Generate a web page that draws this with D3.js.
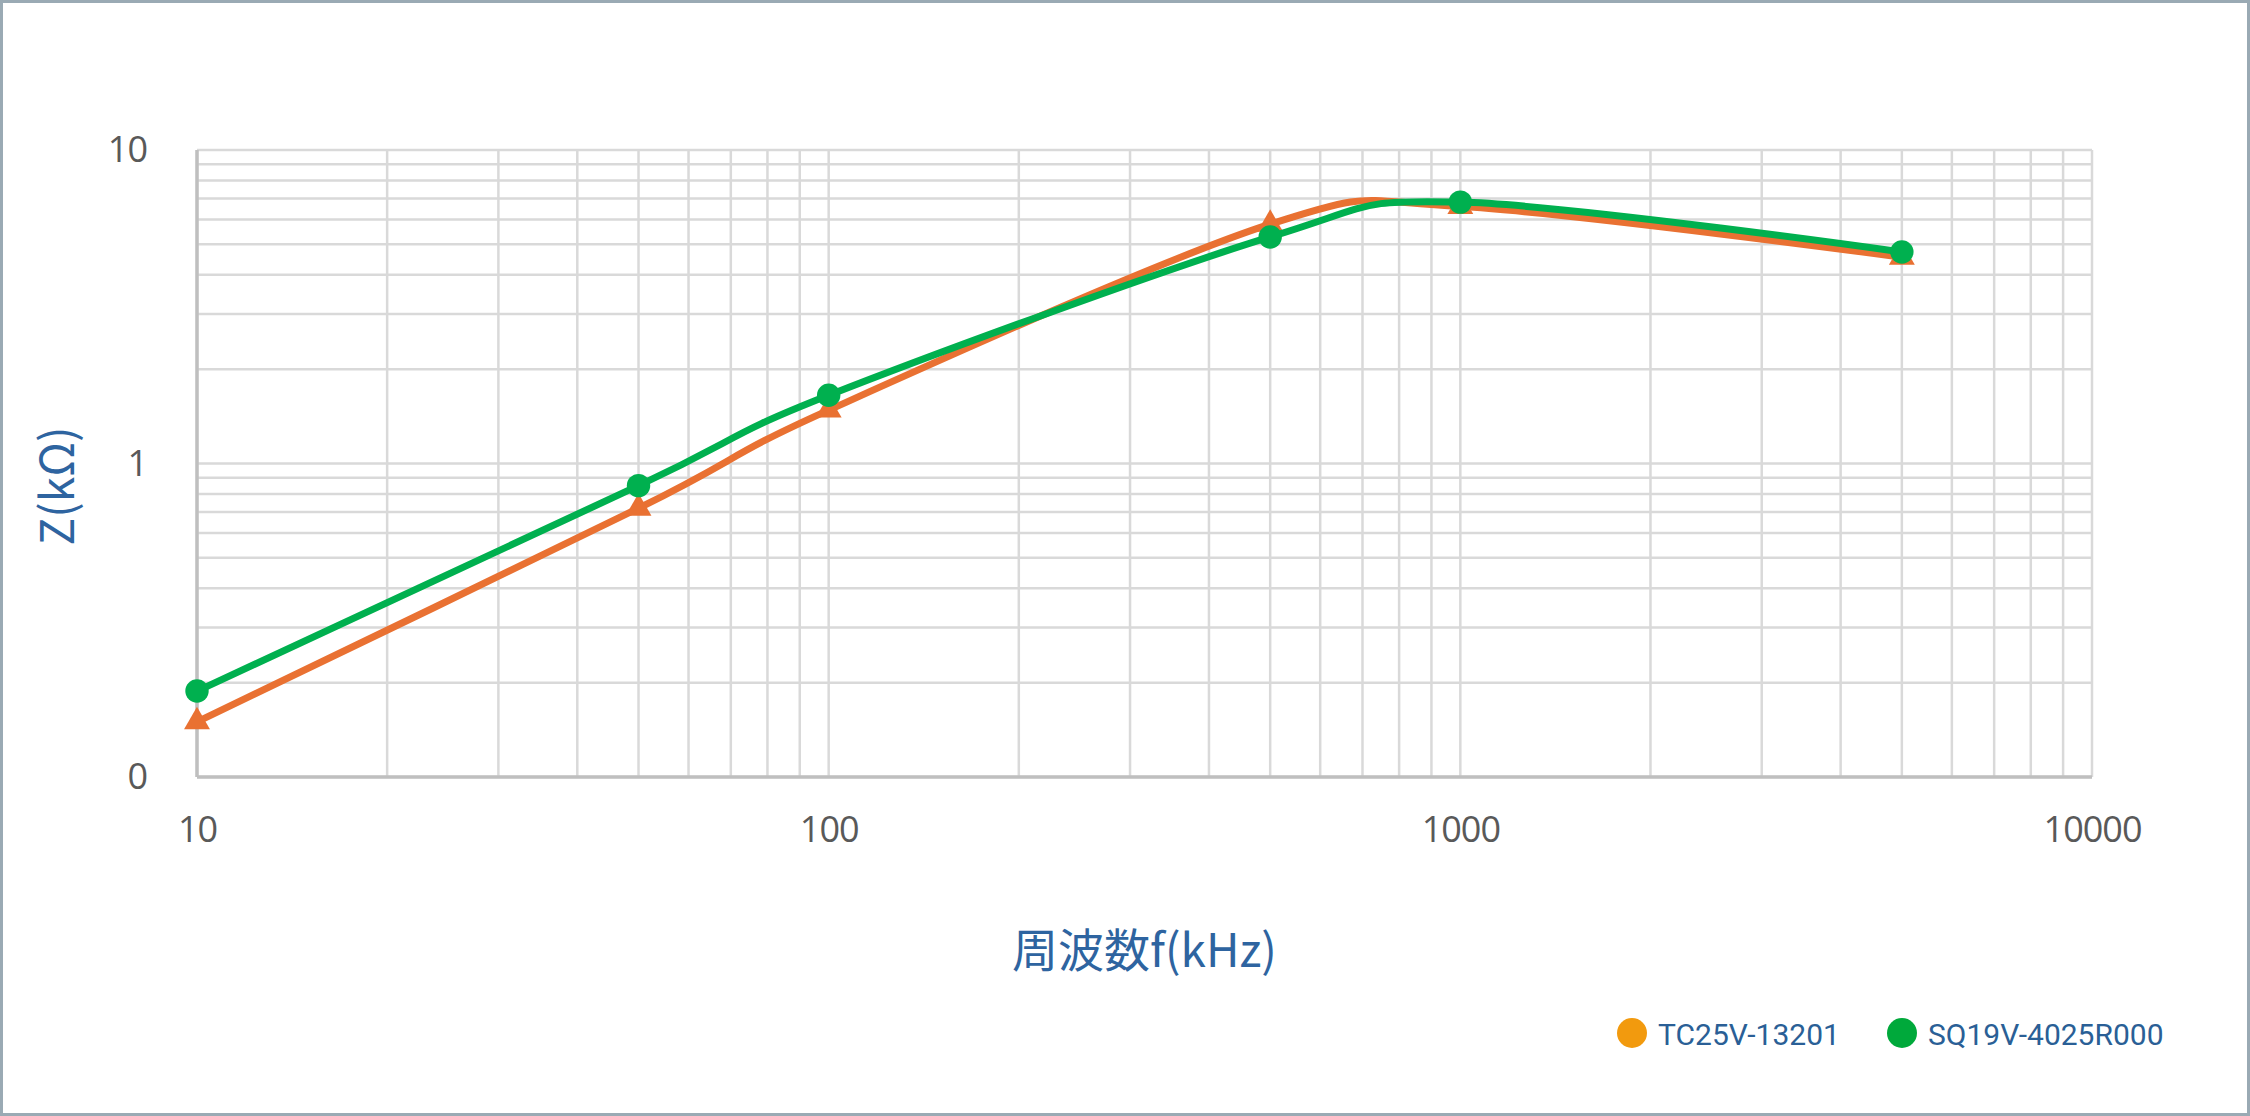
<!DOCTYPE html>
<html>
<head>
<meta charset="utf-8">
<script src="https://cdn.jsdelivr.net/npm/d3@7"></script>
<style>
  body { margin: 0; background: #fff; }
  svg { display: block; }
</style>
</head>
<body>
<div id="main"></div>
<script>
const cte = {
    w: 2250,
    h: 1116,
    duration: 0
};

// data
const frequencies = [10, 50, 100, 500, 1000, 5000];           // kHz
const seriesNames = ["TC25V-13201", "SQ19V-4025R000"];
const tcValues = [0.15, 0.72, 1.48, 5.8, 6.6, 4.55];           // kOhm
const sqValues = [0.188, 0.85, 1.65, 5.28, 6.82, 4.73];        // kOhm

const xTickValues = [10, 100, 1000, 10000];
const xTickLabels = ["10", "100", "1000", "10000"];
const yTickValues = [0.1, 1, 10];
const yTickLabels = ["0", "1", "10"];   // excel shows 0.1 as "0"

const xTitle = "周波数f(kHz)";
const yTitle = "Z(kΩ)";

let margin = { top: 150, right: 158, bottom: 339, left: 197 };
let width = cte.w - margin.left - margin.right;
let height = cte.h - margin.top - margin.bottom;

let xScale = d3.scaleLog().domain([10, 10000]).range([0, width]);
let yScale = d3.scaleLog().domain([0.1, 10]).range([height, 0]);

// minor grid values: 1..9 of each decade
function decadeSteps(lo, hi) {
    let out = [];
    for (let d = lo; d < hi; d *= 10) {
        for (let k = 1; k < 10; k++) out.push(d * k);
    }
    out.push(hi);
    return out;
}

function drawGrid(g) {
    g.selectAll(".vgrid")
        .data(decadeSteps(10, 10000))
        .enter().append("line")
        .attr("class", "vgrid")
        .attr("x1", d => xScale(d)).attr("x2", d => xScale(d))
        .attr("y1", 0).attr("y2", height)
        .style("stroke", "#d9d9d9")
        .style("stroke-width", "2.5px");

    g.selectAll(".hgrid")
        .data(decadeSteps(0.1, 10))
        .enter().append("line")
        .attr("class", "hgrid")
        .attr("x1", 0).attr("x2", width)
        .attr("y1", d => yScale(d)).attr("y2", d => yScale(d))
        .style("stroke", "#d9d9d9")
        .style("stroke-width", "2.5px");

    // left + bottom axis lines a bit darker
    g.append("line")
        .attr("x1", 0).attr("x2", 0)
        .attr("y1", 0).attr("y2", height)
        .style("stroke", "#bfbfbf")
        .style("stroke-width", "3.5px");
    g.append("line")
        .attr("x1", 0).attr("x2", width)
        .attr("y1", height).attr("y2", height)
        .style("stroke", "#bfbfbf")
        .style("stroke-width", "3.5px");
}

function drawAxes(g) {
    const xAxis = d3.axisBottom(xScale)
        .tickValues(xTickValues)
        .tickFormat((d, i) => xTickLabels[i])
        .tickSize(0)
        .tickPadding(52);
    const yAxis = d3.axisLeft(yScale)
        .tickValues(yTickValues)
        .tickFormat((d, i) => yTickLabels[i])
        .tickSize(0)
        .tickPadding(50);

    g.append("g")
        .attr("class", "x-axis")
        .attr("transform", `translate(0, ${height})`)
        .call(xAxis);
    g.append("g")
        .attr("class", "y-axis")
        .call(yAxis);

    g.selectAll(".x-axis path, .y-axis path").remove();
    g.selectAll(".x-axis text, .y-axis text")
        .style("font-family", "'Open Sans', Arial, sans-serif")
        .style("font-size", "36px")
        .style("letter-spacing", "-1px")
        .style("fill", "#595959");
    g.selectAll(".x-axis text").attr("dy", "0.35em");
}

function drawSeries(g, values, color, symbol, symbolSize) {
    const pts = frequencies.map((f, i) => ({ f: f, v: values[i] }));
    const line = d3.line()
        .curve(d3.curveCatmullRom.alpha(0))
        .x(d => xScale(d.f))
        .y(d => yScale(d.v));

    g.append("path")
        .datum(pts)
        .attr("d", line)
        .attr("fill", "none")
        .attr("stroke", color)
        .attr("stroke-width", 7)
        .attr("stroke-linejoin", "round")
        .attr("stroke-linecap", "round");

    g.selectAll(null)
        .data(pts)
        .enter().append("path")
        .attr("d", d3.symbol().type(symbol).size(symbolSize))
        .attr("transform", d => `translate(${xScale(d.f)}, ${yScale(d.v)})`)
        .attr("fill", color);
}

function drawTitles(svg) {
    svg.append("text")
        .attr("x", margin.left + width / 2)
        .attr("y", 967)
        .attr("text-anchor", "middle")
        .style("font-family", "'Noto Sans CJK JP', sans-serif")
        .style("font-size", "46px")
        .style("fill", "#2e64a0")
        .text(xTitle);

    svg.append("text")
        .attr("transform", "translate(74, 486) rotate(-90)")
        .attr("text-anchor", "middle")
        .style("font-family", "'Noto Sans CJK JP', sans-serif")
        .style("font-size", "46px")
        .style("fill", "#2e64a0")
        .text(yTitle);
}

function drawLegend(svg) {
    const legendColors = ["#f29a0e", "#00a93b"];
    const legendX = [1632, 1902];
    const items = svg.selectAll(".legend")
        .data(seriesNames)
        .enter().append("g")
        .attr("class", "legend")
        .attr("transform", (d, i) => `translate(${legendX[i]}, 1033)`);

    items.append("circle")
        .attr("r", 15)
        .attr("fill", (d, i) => legendColors[i]);

    items.append("text")
        .attr("x", 26)
        .attr("y", 12)
        .style("font-family", "Roboto, Arial, sans-serif")
        .style("font-size", "30px")
        .style("fill", "#2a5f96")
        .text(d => d);
}

function createVisualisation() {
    let svg = d3.select("#main").append("svg")
        .attr("width", cte.w)
        .attr("height", cte.h);

    svg.append("rect")
        .attr("x", 1.5).attr("y", 1.5)
        .attr("width", cte.w - 3).attr("height", cte.h - 3)
        .attr("fill", "#fff")
        .attr("stroke", "#9aaab4")
        .attr("stroke-width", 3);

    let g = svg.append("g")
        .attr("transform", `translate(${margin.left}, ${margin.top})`);

    drawGrid(g);
    drawAxes(g);
    drawSeries(g, tcValues, "#e97132", d3.symbolTriangle, 290);
    drawSeries(g, sqValues, "#00b04f", d3.symbolCircle, 430);
    drawTitles(svg);
    drawLegend(svg);
}

createVisualisation();
</script>
</body>
</html>
